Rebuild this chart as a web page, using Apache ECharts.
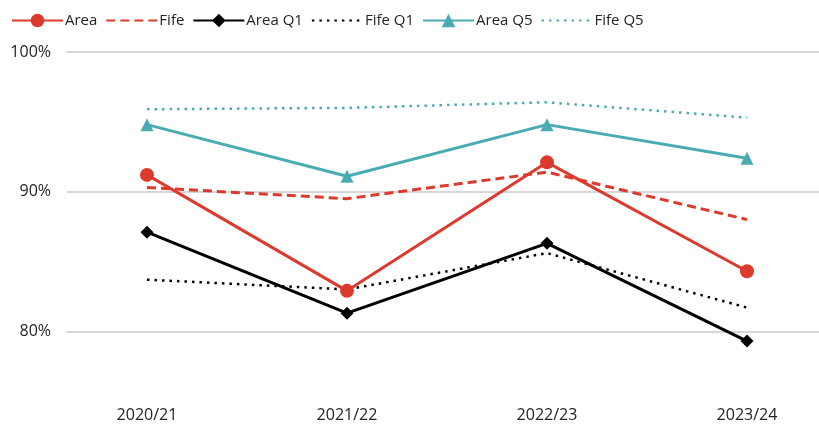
<!DOCTYPE html>
<html><head><meta charset="utf-8">
<script src="https://cdn.jsdelivr.net/npm/echarts@6/dist/echarts.min.js"></script>
<style>html,body{margin:0;padding:0;background:#fff}#c{width:819px;height:429px}</style>
</head><body><div id="c"></div>
<script>
const categories = ['2020/21', '2021/22', '2022/23', '2023/24'];
const area   = [91.2, 82.9, 92.1, 84.3];
const fife   = [90.3, 89.5, 91.4, 88.0];
const areaQ1 = [87.1, 81.3, 86.3, 79.3];
const fifeQ1 = [83.7, 83.0, 85.6, 81.7];
const areaQ5 = [94.8, 91.1, 94.8, 92.4];
const fifeQ5 = [95.9, 96.0, 96.4, 95.3];
const yTicks = [70, 80, 90, 100];

const RED = '#DD3A2E', TEAL = '#4AACB3', BLACK = '#000000';
const TEXT = '#252423';
const font = '"Open Sans", "Noto Sans", sans-serif';

function line(name, data, color, type, symbol, size, width) {
  return {
    name, type: 'line', data, xAxisIndex: 0, yAxisIndex: 0,
    symbol: symbol || 'none', symbolSize: size || 0, showSymbol: !!symbol,
    clip: false,
    lineStyle: { color, width: width || 3, type: type },
    itemStyle: { color, borderWidth: 0 },
    emphasis: { disabled: true }
  };
}

const chart = echarts.init(document.getElementById('c'), null, { renderer: 'canvas' });
chart.setOption({
  animation: false,
  textStyle: { fontFamily: font },
  legend: {
    left: 6, top: 8, itemWidth: 51, itemHeight: 17, itemGap: 8,
    textStyle: { fontSize: 15, color: TEXT, fontFamily: font, padding: [0, 0, 0, -3] },
    data: [
      { name: 'Area' },
      { name: 'Fife', itemStyle: { opacity: 0 } },
      { name: 'Area Q1' },
      { name: 'Fife Q1', itemStyle: { opacity: 0 } },
      { name: 'Area Q5' },
      { name: 'Fife Q5', itemStyle: { opacity: 0 } }
    ]
  },
  grid: [
    { left: 147, right: 72, top: 52, height: 419, outerBoundsMode: 'none', containLabel: false },
    { left: 67, right: 0, top: 52, height: 419, outerBoundsMode: 'none', containLabel: false }
  ],
  xAxis: [
    { type: 'category', gridIndex: 0, data: categories, boundaryGap: false, offset: -68,
      axisLine: { show: false }, axisTick: { show: false },
      axisLabel: { color: TEXT, fontSize: 16, fontFamily: font, margin: 4 } },
    { type: 'category', gridIndex: 1, data: categories, show: false }
  ],
  yAxis: [
    { type: 'value', gridIndex: 0, min: yTicks[0], max: yTicks[yTicks.length - 1], interval: 10, show: false },
    { type: 'value', gridIndex: 1, min: yTicks[0], max: yTicks[yTicks.length - 1], interval: 10,
      axisLine: { show: false }, axisTick: { show: false },
      axisLabel: { formatter: v => v + '%', color: TEXT, fontSize: 16, fontFamily: font, margin: 16 },
      splitLine: { lineStyle: { color: '#C8C8C8', width: 1.5 } } }
  ],
  series: [
    line('Area', area, RED, 'solid', 'circle', 14, 3),
    line('Fife', fife, RED, [9, 5], null, 0, 3),
    line('Area Q1', areaQ1, BLACK, 'solid', 'diamond', 13, 3),
    line('Fife Q1', fifeQ1, BLACK, [2.5, 5], null, 0, 2.5),
    line('Area Q5', areaQ5, TEAL, 'solid', 'triangle', 13, 3),
    line('Fife Q5', fifeQ5, TEAL, [2.5, 5], null, 0, 2.5)
  ]
});
</script></body></html>
